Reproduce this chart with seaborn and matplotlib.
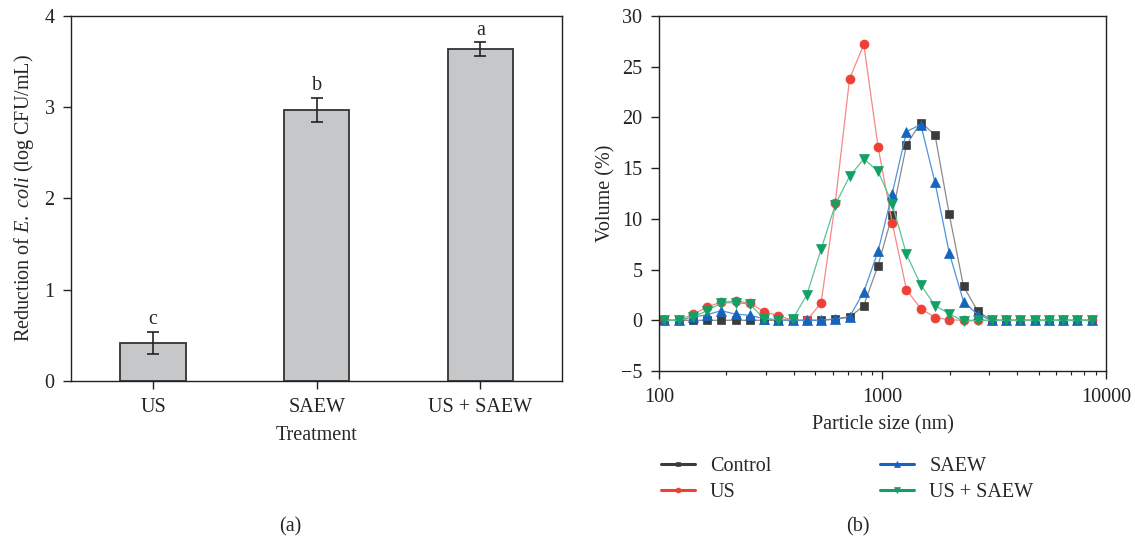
import numpy as np
import pandas as pd
import matplotlib
matplotlib.use("Agg")
import matplotlib.pyplot as plt
import seaborn as sns

# data
treatments = ["US", "SAEW", "US + SAEW"]
reduction = [0.415, 2.97, 3.635]
reduction_err = [0.12, 0.133, 0.075]
letters = ["c", "b", "a"]

sizes = [105.7, 122.4, 141.8, 164.2, 190.1, 220.2, 255.0, 295.3, 342.0, 396.1,
         458.7, 531.2, 615.1, 712.4, 825.0, 955.4, 1106, 1281, 1484, 1718,
         1990, 2305, 2669, 3091, 3580, 4145, 4801, 5560, 6439, 7456, 8635]
control = [0, 0, 0, 0, 0, 0, 0, 0, 0, 0,
           0, 0, 0.1, 0.3, 1.45, 5.4, 10.4, 17.3, 19.5, 18.3,
           10.45, 3.35, 0.9, 0, 0, 0, 0, 0, 0, 0, 0]
us = [0, 0, 0.6, 1.3, 1.8, 1.9, 1.7, 0.85, 0.45, 0,
      0, 1.7, 11.6, 23.8, 27.2, 17.1, 9.6, 3.0, 1.15, 0.27,
      0.05, 0, 0, 0, 0, 0, 0, 0, 0, 0, 0]
saew = [0, 0, 0.3, 0.55, 0.95, 0.6, 0.5, 0.15, 0.05, 0,
        0, 0, 0.15, 0.35, 2.8, 6.8, 12.5, 18.6, 19.3, 13.6,
        6.65, 1.85, 0.55, 0, 0, 0, 0, 0, 0, 0, 0]
us_saew = [0, 0, 0.3, 0.95, 1.7, 1.75, 1.6, 0.15, 0.05, 0.1,
           2.5, 7.0, 11.4, 14.2, 15.9, 14.7, 11.5, 6.5, 3.5, 1.45,
           0.65, -0.1, 0, 0, 0, 0, 0, 0, 0, 0, 0]

groups = ["Control", "US", "SAEW", "US + SAEW"]
series = [control, us, saew, us_saew]
marker_colors = ["#3c3c3c", "#ee4035", "#1565c0", "#12a065"]
line_colors = ["#8a8a8a", "#f48a84", "#4d94dc", "#5cc496"]
markers = ["s", "o", "^", "v"]
marker_sizes = [5.8, 6.5, 7, 7]

FS = 14.5

sns.set_style("ticks")
plt.rcParams["font.family"] = ["Liberation Serif", "DejaVu Serif"]
plt.rcParams["mathtext.fontset"] = "custom"
plt.rcParams["mathtext.rm"] = "Liberation Serif"
plt.rcParams["mathtext.it"] = "Liberation Serif:italic"
plt.rcParams["font.size"] = FS
plt.rcParams["axes.edgecolor"] = "#222222"
plt.rcParams["axes.linewidth"] = 1.0

fig = plt.figure(figsize=(11.35, 5.46), dpi=100)
ax1 = fig.add_axes([0.0629, 0.3022, 0.4323, 0.6685])
ax2 = fig.add_axes([0.5806, 0.3205, 0.3938, 0.6502])

# (a) bar chart
bar_df = pd.DataFrame({"Treatment": treatments, "Reduction": reduction})
sns.barplot(data=bar_df, x="Treatment", y="Reduction", color="#c6c7c9",
            edgecolor="#333333", linewidth=1.3, width=0.4, saturation=1, ax=ax1)
ax1.errorbar(range(len(treatments)), reduction, yerr=reduction_err, fmt="none",
             ecolor="#222222", elinewidth=1.2, capsize=4, capthick=1.2)
for i, (v, e, l) in enumerate(zip(reduction, reduction_err, letters)):
    ax1.text(i, v + e + 0.03, l, ha="center", va="bottom", fontsize=FS)
ax1.set_xlim(-0.5, 2.5)
ax1.set_ylim(0, 4)
ax1.set_yticks([0, 1, 2, 3, 4])
ax1.set_xlabel("Treatment", fontsize=FS, labelpad=7)
ax1.set_ylabel(r"Reduction of $\it{E.}$ $\it{coli}$ (log CFU/mL)", fontsize=FS, labelpad=6)
ax1.tick_params(direction="out", length=6, width=1, labelsize=FS, colors="#222222", pad=6)

# (b) particle size distribution
ax2.set_xscale("log")
for g, s, mc, lc, m, ms in zip(groups, series, marker_colors, line_colors, markers, marker_sizes):
    d = pd.DataFrame({"size": sizes, "volume": s})
    sns.lineplot(data=d, x="size", y="volume", color=lc, marker=m,
                 markerfacecolor=mc, markeredgecolor=mc, markeredgewidth=0.5,
                 markersize=ms, linewidth=0.9, label=g, ax=ax2)
ax2.set_xlim(100, 10000)
ax2.set_ylim(-5, 30)
ax2.set_yticks(np.arange(-5, 31, 5))
ax2.set_xticks([100, 1000, 10000])
ax2.set_xticklabels(["100", "1000", "10000"])
ax2.set_xlabel("Particle size (nm)", fontsize=FS, labelpad=6)
ax2.set_ylabel("Volume (%)", fontsize=FS, labelpad=4)
ax2.tick_params(which="major", direction="out", length=6, width=1, labelsize=FS, colors="#222222", pad=6)
ax2.tick_params(which="minor", direction="out", length=3, width=0.8, colors="#222222")

handles, labels = ax2.get_legend_handles_labels()
ax2.get_legend().remove()
leg = fig.legend(handles, labels, ncol=2, loc="upper left", bbox_to_anchor=(0.566, 0.197),
                 frameon=False, fontsize=FS, handlelength=1.7, handletextpad=0.75,
                 markerscale=0.55, columnspacing=5.4, labelspacing=0.35)
for line, mc in zip(leg.get_lines(), marker_colors):
    line.set_color(mc)
    line.set_linewidth(2.2)

fig.text(290 / 1135, 1 - 527 / 546, "(a)", ha="center", va="center", fontsize=FS)
fig.text(858 / 1135, 1 - 527 / 546, "(b)", ha="center", va="center", fontsize=FS)

fig.savefig("out.png", dpi=100)
